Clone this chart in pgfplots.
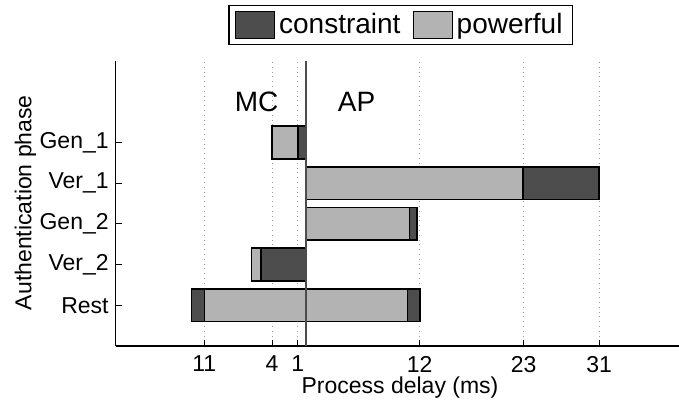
\documentclass[border=0pt]{standalone}
\usepackage{fontspec}
\setmainfont{Liberation Sans}
\usepackage{pgfplots}
\pgfplotsset{compat=1.18}
\usetikzlibrary{calc}
\definecolor{cdark}{RGB}{77,77,77}
\definecolor{clight}{RGB}{179,179,179}
\begin{document}
\begin{tikzpicture}
\begin{axis}[
  scale only axis, width=281.65pt, height=142.5pt,
  xmin=-20.17, xmax=39.44, ymin=0, ymax=7,
  axis x line*=bottom, axis y line*=left,
  axis line style={-, line width=0.6pt, black},
  xtick={-10.79,-3.63,-0.91,12,23,31},
  xticklabels={11,4,1,12,23,31},
  ytick={1,2,3,4,5},
  yticklabels={Rest,Ver\_2,Gen\_2,Ver\_1,Gen\_1},
  tick align=inside, major tick length=3pt,
  tick style={black, line width=0.5pt},
  xmajorgrids, grid style={dotted, gray!80, line width=0.5pt},
  ticklabel style={font=\fontsize{11.5}{13}\selectfont},
  xticklabel style={yshift=-1.5pt},
  label style={font=\fontsize{11.5}{13}\selectfont},
  xlabel={Process delay (ms)},
  ylabel={Authentication phase},
  xlabel style={at={(rel axis cs:0.5047,0)}, anchor=base, yshift=-23.65pt},
  ylabel style={at={(rel axis cs:0,0.503)}, anchor=base, yshift=42.1pt},
  /pgf/number format/assume math mode=true,
  mybar/.style={xbar, bar shift=0pt, bar width=0.8, draw=black, line width=0.8pt},
  legend columns=2,
  legend style={at={(0.506,1.126)}, anchor=center, draw=black, line width=0.6pt,
    font=\fontsize{14}{16}\selectfont,
    /tikz/every even column/.append style={column sep=4pt}},
]
% outer segments (full extent, coloured as the outermost segment)
\addplot[mybar, fill=cdark,
  legend image code/.code={\draw[fill=cdark, draw=black, line width=0.6pt] (0pt,-6.75pt) rectangle (19.5pt,6.75pt);}]
  coordinates {(31,4) (11.71,3) (12.0,1) (-12.13,1)};
\addlegendentry{constraint}
\addplot[mybar, fill=clight,
  legend image code/.code={\draw[fill=clight, draw=black, line width=0.6pt] (0pt,-6.75pt) rectangle (19.5pt,6.75pt);}]
  coordinates {(-3.63,5) (-5.78,2)};
\addlegendentry{powerful}
% inner segments
\addplot[mybar, fill=clight, forget plot]
  coordinates {(22.96,4) (10.94,3) (10.69,1) (-10.79,1)};
\addplot[mybar, fill=cdark, forget plot]
  coordinates {(-0.91,5) (-4.79,2)};
\draw[black!70, line width=1pt] (axis cs:0,0) -- (axis cs:0,7);
\node[font=\fontsize{14}{16}\selectfont] at (axis cs:-5.25,6) {MC};
\node[font=\fontsize{14}{16}\selectfont] at (axis cs:5.33,6) {AP};
\end{axis}
\pgfresetboundingbox
\path[use as bounding box] ($(current axis.south west)+(-57.85pt,-28.5pt)$) rectangle ($(current axis.south west)+(281.65pt,173pt)$);
\end{tikzpicture}
\end{document}
